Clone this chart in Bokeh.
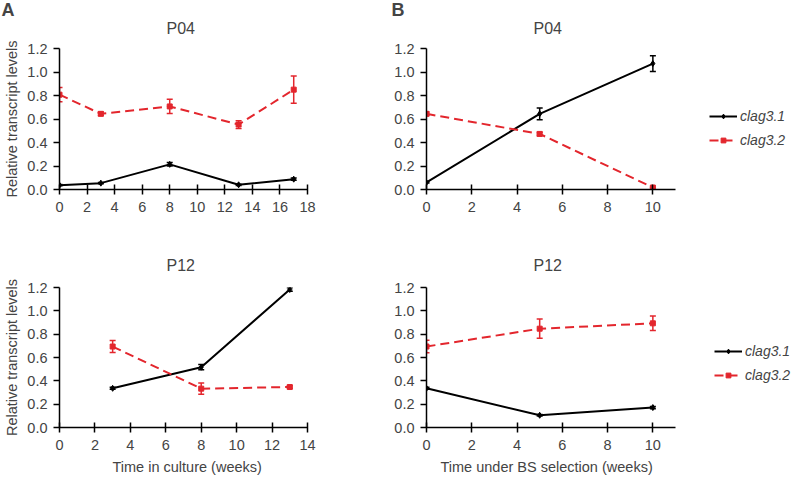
from bokeh.plotting import figure
from bokeh.models import (Range1d, FixedTicker, NumeralTickFormatter, Whisker,
                          ColumnDataSource, Legend, LegendItem, TeeHead, Title)
from bokeh.layouts import row, column
from bokeh.embed import file_html
from bokeh.resources import INLINE

# ---------------- data ----------------
series_names = ["clag3.1", "clag3.2"]

a_p04_weeks = [0, 3, 8, 13, 17]
a_p04_clag31 = [0.037, 0.054, 0.214, 0.040, 0.088]
a_p04_clag31_err = [0.005, 0.005, 0.015, 0.005, 0.010]
a_p04_clag32 = [0.807, 0.644, 0.707, 0.553, 0.850]
a_p04_clag32_err = [0.061, 0.015, 0.061, 0.033, 0.117]

a_p12_weeks = [3, 8, 13]
a_p12_clag31 = [0.336, 0.517, 1.183]
a_p12_clag31_err = [0.008, 0.022, 0.015]
a_p12_clag32 = [0.694, 0.333, 0.347]
a_p12_clag32_err = [0.052, 0.048, 0.010]

b_p04_weeks = [0, 5, 10]
b_p04_clag31 = [0.060, 0.644, 1.072]
b_p04_clag31_err = [0.005, 0.050, 0.067]
b_p04_clag32 = [0.644, 0.473, 0.017]
b_p04_clag32_err = [0.015, 0.015, 0.005]

b_p12_weeks = [0, 5, 10]
b_p12_clag31 = [0.336, 0.105, 0.171]
b_p12_clag31_err = [0.008, 0.006, 0.010]
b_p12_clag32 = [0.694, 0.847, 0.893]
b_p12_clag32_err = [0.053, 0.082, 0.062]

y_ticks = [0.0, 0.2, 0.4, 0.6, 0.8, 1.0, 1.2]
a_p04_x_ticks = [0, 2, 4, 6, 8, 10, 12, 14, 16, 18]
a_p12_x_ticks = [0, 2, 4, 6, 8, 10, 12, 14]
b_x_ticks = [0, 2, 4, 6, 8, 10]

panel_titles = ["P04", "P12"]
panel_letters = ["A", "B"]
y_label = "Relative transcript levels"
a_x_label = "Time in culture (weeks)"
b_x_label = "Time under BS selection (weeks)"

# ---------------- style ----------------
FONT = "Liberation Sans"
BLACK = "#000000"
RED = "#e3262d"


def make_panel(weeks, s1, e1, s2, e2, xmax, xticks, title, width, height,
               bl, br, bt, bb, axis_px, title_standoff, ylabel=None,
               xlabel=None, xlabel_offset=0, legend_loc=None, letter=None,
               letter_offset=0):
    frame_px = width - bl - br
    p = figure(width=width, height=height, output_backend="svg",
               toolbar_location=None,
               x_range=Range1d(0, xmax * frame_px / axis_px),
               y_range=Range1d(0, 1.2))
    p.min_border_left = bl
    p.min_border_right = br
    p.min_border_top = bt
    p.min_border_bottom = bb
    p.outline_line_color = None
    p.xgrid.visible = False
    p.ygrid.visible = False
    p.background_fill_color = None
    p.border_fill_color = None
    p.title.text = ""

    p.add_layout(Title(text=title, align="left", offset=107,
                       standoff=title_standoff, text_font=FONT,
                       text_font_size="16px", text_font_style="normal"),
                 "above")
    if letter is not None:
        p.add_layout(Title(text=letter, align="left", offset=letter_offset,
                           standoff=-26, text_font=FONT,
                           text_font_size="18px", text_font_style="bold"),
                     "above")

    for ax in p.xaxis:
        ax.ticker = FixedTicker(ticks=xticks)
        ax.bounds = (0, xmax)
        ax.major_tick_in = 5
        ax.major_tick_out = 5
        ax.minor_tick_line_color = None
        ax.axis_line_width = 1.5
        ax.major_tick_line_width = 1.5
        ax.major_label_text_font = FONT
        ax.major_label_text_font_size = "14.5px"
        ax.major_label_standoff = 7
    for ax in p.yaxis:
        ax.ticker = FixedTicker(ticks=y_ticks)
        ax.formatter = NumeralTickFormatter(format="0.0")
        ax.major_tick_in = 0
        ax.major_tick_out = 6
        ax.minor_tick_line_color = None
        ax.axis_line_width = 1.5
        ax.major_tick_line_width = 1.5
        ax.major_label_text_font = FONT
        ax.major_label_text_font_size = "14.5px"
        ax.major_label_standoff = 6
        if ylabel:
            ax.axis_label = ylabel
            ax.axis_label_text_font = FONT
            ax.axis_label_text_font_size = "14.5px"
            ax.axis_label_text_font_style = "normal"
            ax.axis_label_standoff = 4

    if xlabel:
        p.add_layout(Title(text=xlabel, align="left", offset=xlabel_offset,
                           standoff=8, text_font=FONT,
                           text_font_size="14.5px", text_font_style="normal"),
                     "below")

    src1 = ColumnDataSource(dict(x=weeks, y=s1,
                                 lo=[v - e for v, e in zip(s1, e1)],
                                 hi=[v + e for v, e in zip(s1, e1)]))
    src2 = ColumnDataSource(dict(x=weeks, y=s2,
                                 lo=[v - e for v, e in zip(s2, e2)],
                                 hi=[v + e for v, e in zip(s2, e2)]))

    l1 = p.line("x", "y", source=src1, line_color=BLACK, line_width=2)
    m1 = p.scatter("x", "y", source=src1, marker="diamond", size=6,
                   fill_color=BLACK, line_color=BLACK)
    l2 = p.line("x", "y", source=src2, line_color=RED, line_width=2,
                line_dash="9 5")
    m2 = p.scatter("x", "y", source=src2, marker="square", size=5,
                   fill_color=RED, line_color=RED)

    for src, col in ((src1, BLACK), (src2, RED)):
        w = Whisker(base="x", lower="lo", upper="hi", source=src,
                    dimension="height", line_color=col, line_width=1.5,
                    upper_head=TeeHead(size=6, line_color=col, line_width=1.5),
                    lower_head=TeeHead(size=6, line_color=col, line_width=1.5))
        p.add_layout(w)

    if legend_loc is not None:
        leg = Legend(items=[LegendItem(label=series_names[0], renderers=[l1, m1]),
                            LegendItem(label=series_names[1], renderers=[l2, m2])],
                     location=legend_loc, orientation="vertical",
                     glyph_width=28, glyph_height=12, label_height=24,
                     spacing=0, padding=0, margin=0, label_standoff=3,
                     border_line_color=None, background_fill_alpha=0,
                     label_text_font=FONT, label_text_font_size="14px",
                     label_text_font_style="italic")
        p.add_layout(leg)
    return p


LW, RW = 390, 402
TH, BH = 230, 249

a1 = make_panel(a_p04_weeks, a_p04_clag31, a_p04_clag31_err, a_p04_clag32,
                a_p04_clag32_err, 18, a_p04_x_ticks, panel_titles[0], LW, TH,
                59, LW - 59 - 248, 48, TH - 48 - 141, 248, 23,
                ylabel=y_label, letter=panel_letters[0], letter_offset=-58)
b1 = make_panel(b_p04_weeks, b_p04_clag31, b_p04_clag31_err, b_p04_clag32,
                b_p04_clag32_err, 11, b_x_ticks, panel_titles[0], RW, TH,
                36, 0, 48, TH - 48 - 141, 249, 23,
                legend_loc=(283, 37), letter=panel_letters[1],
                letter_offset=-35)
a2 = make_panel(a_p12_weeks, a_p12_clag31, a_p12_clag31_err, a_p12_clag32,
                a_p12_clag32_err, 14, a_p12_x_ticks, panel_titles[1], LW, BH,
                59, LW - 59 - 248, 57, BH - 57 - 140, 248, 27,
                ylabel=y_label, xlabel=a_x_label, xlabel_offset=53)
b2 = make_panel(b_p12_weeks, b_p12_clag31, b_p12_clag31_err, b_p12_clag32,
                b_p12_clag32_err, 11, b_x_ticks, panel_titles[1], RW, BH,
                36, 0, 57, BH - 57 - 140, 249, 27,
                legend_loc=(288, 40), xlabel=b_x_label, xlabel_offset=14)

layout = column(row(a1, b1), row(a2, b2))

open("out.html", "w").write(file_html(layout, INLINE))
